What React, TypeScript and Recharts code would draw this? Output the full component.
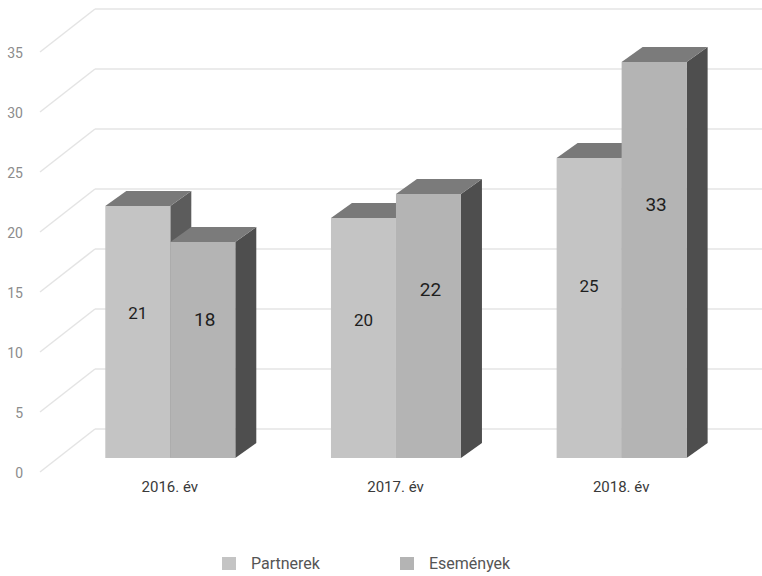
import { BarChart, Bar, XAxis, YAxis, CartesianGrid, Legend, LabelList } from 'recharts';

const categories = ['2016. év', '2017. év', '2018. év'];
const partnerek = [21, 20, 25];
const esemenyek = [18, 22, 33];
const yTicks = [0, 5, 10, 15, 20, 25, 30, 35];

const data = categories.map((name, i) => ({ name, partnerek: partnerek[i], esemenyek: esemenyek[i] }));

const FONT = 'Roboto, "Noto Sans", sans-serif';
const DEPTH_X = 21;
const DEPTH_TOP = 15;
const DEPTH_BOT = 15;

const SERIES = {
  partnerek: { label: 'Partnerek', front: '#c4c4c4', top: '#797979', side: '#5c5c5c', labelFrac: 0.575, labelDx: 0, fontSize: 17 },
  esemenyek: { label: 'Események', front: '#b4b4b4', top: '#7b7b7b', side: '#4e4e4e', labelFrac: 0.64, labelDx: 2, fontSize: 19 },
};

const Bar3D = (props: any) => {
  const { x, y, width, height, front, top, side } = props;
  if (height == null || height <= 0) return null;
  const base = y + height;
  const r = x + width;
  return (
    <g>
      <polygon points={`${r},${y} ${r + DEPTH_X},${y - DEPTH_TOP} ${r + DEPTH_X},${base - DEPTH_BOT} ${r},${base}`} fill={side} />
      <polygon points={`${x},${y} ${x + DEPTH_X},${y - DEPTH_TOP} ${r + DEPTH_X},${y - DEPTH_TOP} ${r},${y}`} fill={top} />
      <rect x={x} y={y} width={width} height={height} fill={front} />
    </g>
  );
};

const makeLabel = (key: 'partnerek' | 'esemenyek') => (props: any) => {
  const { x, y, width, height, value } = props;
  const s = SERIES[key];
  return (
    <text
      x={x + width / 2 + s.labelDx} y={y + height * (1 - s.labelFrac)}
      textAnchor="middle" dominantBaseline="central"
      style={{ fontFamily: FONT, fontSize: s.fontSize, fill: '#1e1e1e' }}
    >
      {value}
    </text>
  );
};

// back-wall grid line + diagonal side-wall line for each y tick
const gridLine = (props: any) => {
  const { y1, key } = props;
  return (
    <g key={key}>
      <line x1={40} y1={y1 + 14} x2={95} y2={y1 - 29} stroke="#e4e4e4" strokeWidth={1.5} />
      <line x1={95} y1={y1 - 29} x2={762} y2={y1 - 29} stroke="#e4e4e4" strokeWidth={1.5} />
    </g>
  );
};

const YTick = ({ y, payload }: any) => (
  <text x={23} y={y + 15} textAnchor="end" dominantBaseline="central"
    style={{ fontFamily: FONT, fontSize: 14, fill: '#8c8c8c' }}>
    {payload.value}
  </text>
);

const LegendContent = () => (
  <div style={{ height: 40, display: 'flex', alignItems: 'center', paddingLeft: 222, fontFamily: FONT, fontSize: 16, color: '#555' }}>
    {(['partnerek', 'esemenyek'] as const).map((k, i) => (
      <div key={k} style={{ display: 'flex', alignItems: 'center', marginRight: i === 0 ? 80 : 0 }}>
        <div style={{ width: 14, height: 13, background: SERIES[k].front, marginRight: 15 }} />
        <span>{SERIES[k].label}</span>
      </div>
    ))}
  </div>
);

export default function App() {
  return (
    <div style={{ width: 762, height: 576, background: '#fff' }}>
      <style>{'body{margin:0}'}</style>
      <BarChart
        width={762} height={576} data={data}
        margin={{ top: 38, right: 28, left: 0, bottom: 48 }}
        barGap={0} barCategoryGap="21.4%"
      >
        <CartesianGrid vertical={false} horizontal={gridLine} />
        <XAxis
          dataKey="name" height={30} axisLine={false} tickLine={false} tickSize={0} tickMargin={23}
          tick={{ fontFamily: FONT, fontSize: 15, fill: '#3a3a3a' }}
        />
        <YAxis
          type="number" domain={[0, 35]} ticks={yTicks} width={57}
          axisLine={false} tickLine={false} tick={<YTick />}
        />
        <Legend
          verticalAlign="bottom" height={40}
          wrapperStyle={{ top: 543, bottom: 'auto', left: 0, width: 762 }}
          content={<LegendContent />}
        />
        <Bar dataKey="partnerek" name="Partnerek" isAnimationActive={false}
          shape={(p: any) => <Bar3D {...p} front={SERIES.partnerek.front} top={SERIES.partnerek.top} side={SERIES.partnerek.side} />}>
          <LabelList dataKey="partnerek" content={makeLabel('partnerek')} />
        </Bar>
        <Bar dataKey="esemenyek" name="Események" isAnimationActive={false}
          shape={(p: any) => <Bar3D {...p} front={SERIES.esemenyek.front} top={SERIES.esemenyek.top} side={SERIES.esemenyek.side} />}>
          <LabelList dataKey="esemenyek" content={makeLabel('esemenyek')} />
        </Bar>
      </BarChart>
    </div>
  );
}
